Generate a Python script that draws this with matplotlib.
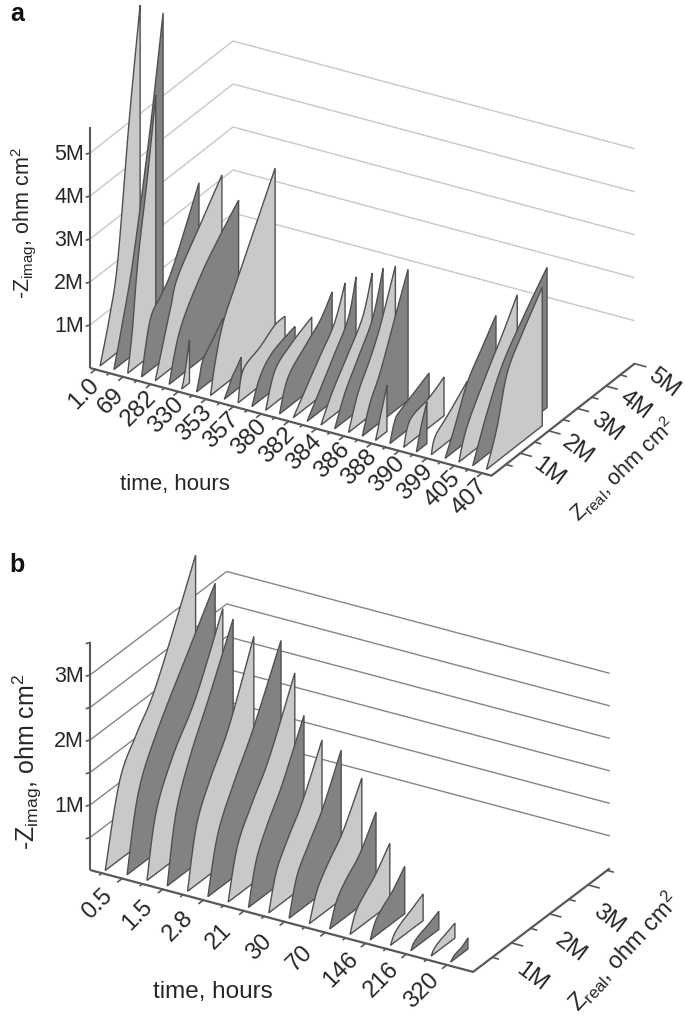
#!/usr/bin/env python3
'''Two waterfall impedance charts drawn with a hand made oblique projection.'''

import matplotlib
matplotlib.use('Agg')
import matplotlib.pyplot as plt
from matplotlib.patches import Polygon

plt.rcParams['font.family'] = ['Liberation Sans', 'DejaVu Sans']
plt.rcParams['mathtext.fontset'] = 'custom'
plt.rcParams['mathtext.rm'] = 'Liberation Sans'
plt.rcParams['mathtext.default'] = 'regular'

LIGHT = '#c9c9c9'
DARK = '#828282'
EDGE = '#505050'
AXIS = '#585858'
TEXT = '#262626'

# panel a, values in M ohm cm2, one row per measurement
a_times = ['1.0', '69', '282', '330', '353', '357', '380', '382', '384', '386',
           '388', '390', '399', '405', '407']
a_real = [
    [.16, .50, .78, 1.18, 1.56], [.16, .45, .83, 1.42, 1.88], [.16, .32, .52, .85, 1.14],
    [.16, .46, .85, 1.26, 2.17], [.16, .68, .94, 1.72, 2.49], [.16, .54, 1.24, 1.90, 2.59],
    [.12, .18, .25, .32, .39], [.16, .26, .38, .73, 1.08], [.16, .32, .60, 1.09, 2.42],
    [.16, .30, .43, .60, .75], [.16, .33, .93, 1.45, 1.80], [.16, .44, .86, 1.56, 1.67],
    [.16, .49, 1.08, 1.50, 1.77], [.16, .46, 1.12, 1.60, 2.00], [.16, .60, 1.10, 1.60, 1.97],
    [.16, .61, 1.10, 1.60, 1.87], [.16, .55, 1.10, 1.63, 1.95], [.16, .52, 1.00, 1.50, 1.85],
    [.16, .49, .90, 1.26, 1.80], [.16, .43, .78, 1.27, 1.76], [.14, .22, .30, .42, .54],
    [.16, .34, .58, 1.05, 1.53], [.16, .38, .98, 1.30, 1.57], [.12, .20, .28, .38, .49],
    [.16, .29, .70, 1.10, 1.41], [.16, .50, .93, 1.45, 1.94], [.16, .44, 1.14, 1.70, 2.20],
    [.16, .66, 1.22, 2.00, 2.76], [.16, .53, .88, 1.40, 2.11],
]
a_imag = [
    [0, 1.00, 2.14, 5.20, 7.66], [0, .90, 2.20, 4.90, 7.40], [0, .90, 2.45, 4.20, 5.96],
    [0, 1.17, 1.55, 1.98, 3.47], [0, 1.38, 2.00, 2.80, 3.57], [0, 1.07, 1.93, 2.50, 3.02],
    [0, .15, .40, .70, 1.00], [0, .30, .63, .93, 1.23], [0, .67, 1.46, 2.20, 4.11],
    [0, .18, .37, .52, .67], [0, .67, .90, 1.14, 1.16], [0, .54, .88, 1.06, 1.07],
    [0, .77, 1.09, 1.24, 1.33], [0, .70, 1.15, 1.45, 1.88], [0, .45, .95, 1.45, 2.19],
    [0, .50, 1.05, 1.65, 2.47], [0, .55, 1.15, 1.77, 2.60], [0, .65, 1.25, 1.90, 2.85],
    [0, .74, 1.30, 1.88, 3.02], [0, .63, 1.15, 2.10, 3.05], [0, .20, .45, .75, 1.08],
    [0, .46, .60, .76, .93], [0, .52, .67, .78, .90], [0, .25, .49, .73, .97],
    [0, .35, .60, .85, 1.05], [0, .56, 1.35, 1.90, 2.40], [0, .67, 1.56, 2.20, 2.83],
    [0, .97, 1.84, 2.60, 3.26], [0, .79, 1.86, 2.50, 3.22],
]

# panel b
b_times = ['0.5', '1.5', '2.8', '21', '30', '70', '146', '216', '320']
b_real = [
    [.09, .47, .92, 1.44, 2.45], [.13, .42, .91, 1.85, 2.43], [.12, .36, .80, 1.40, 2.10],
    [.12, .34, .70, 1.20, 1.84], [.12, .35, .70, 1.20, 1.85], [.12, .38, .80, 1.30, 2.03],
    [.12, .36, .75, 1.20, 1.86], [.12, .33, .65, 1.00, 1.57], [.12, .32, .62, 1.00, 1.51],
    [.12, .32, .62, 1.00, 1.48], [.12, .32, .62, 1.00, 1.49], [.12, .30, .56, .90, 1.33],
    [.12, .27, .50, .78, 1.16], [.12, .25, .45, .70, 1.02], [.12, .22, .40, .65, .97],
    [.12, .20, .36, .58, .85], [.12, .20, .33, .50, .74], [.10, .17, .27, .39, .55],
]
b_imag = [
    [0, 1.22, 1.75, 2.28, 3.80], [0, 1.12, 1.85, 2.85, 3.46], [0, .95, 1.62, 2.25, 3.30],
    [0, 1.00, 1.70, 2.40, 3.34], [0, .90, 1.45, 2.05, 3.15], [0, .85, 1.45, 2.05, 3.09],
    [0, .75, 1.25, 1.75, 2.75], [0, .65, 1.10, 1.50, 2.31], [0, .55, .92, 1.32, 2.04],
    [0, .55, .90, 1.30, 1.98], [0, .42, .72, 1.03, 1.63], [0, .35, .58, .80, 1.26],
    [0, .28, .45, .62, .94], [0, .22, .36, .49, .73], [0, .13, .22, .30, .41],
    [0, .09, .15, .20, .28], [0, .08, .13, .17, .23], [0, .05, .08, .10, .17],
]

a_grid = [1, 2, 3, 4, 5]
a_zticks = [1, 2, 3, 4, 5]
a_rticks = [.5, 1, 1.5, 2, 2.5, 3, 3.5, 4, 4.5, 5]
b_grid = [.5, 1, 1.5, 2, 2.5, 3]
b_zticks = [.5, 1, 1.5, 2, 2.5, 3, 3.5]
b_rticks = [.5, 1, 1.5, 2, 2.5, 3, 3.5]

fig = plt.figure(figsize=(6.85, 10.21), dpi=100)
ax = fig.add_axes([0, 0, 1, 1])
ax.set_xlim(0, 685)
ax.set_ylim(1021, 0)
ax.axis('off')


def smooth(pts, steps=6):
	'''Catmull-Rom curve through the read points, only to round the drawn edge.'''
	out = [pts[0]]
	for k in range(len(pts) - 1):
		p0, p1, p2, p3 = pts[max(k - 1, 0)], pts[k], pts[k + 1], pts[min(k + 2, len(pts) - 1)]
		for s in range(1, steps + 1):
			u = s / steps
			out.append(tuple(
				.5 * (2 * p1[c] + (p2[c] - p0[c]) * u
				      + (2 * p0[c] - 5 * p1[c] + 4 * p2[c] - p3[c]) * u ** 2
				      + (3 * p1[c] - p0[c] - 3 * p2[c] + p3[c]) * u ** 3)
				for c in (0, 1)))
	return out


def draw_panel(real, imag, times, grid, zticks, rticks, p):
	def proj(t, r, z):
		return (p['ox'] + p['dx'] * t + p['rx'] * r,
		        p['oy'] + p['dy'] * t - p['ry'] * r - p['zy'] * z)

	def line(t, r, z, **kw):
		pts = [proj(*q) for q in zip(t, r, z)]
		ax.plot(*zip(*pts), solid_capstyle='butt', **kw)

	tmax, rmax, ztop = p['tmax'], p['rmax'], p['ztop']
	for z in grid:
		line([0, 0, tmax], [0, rmax, rmax], [z, z, z], color=p['grid'], lw=1.0, zorder=1)

	# axes
	line([0, 0], [0, 0], [0, ztop], color=AXIS, lw=1.5, zorder=2)
	line([0, tmax, tmax], [0, 0, rmax], [0, 0, 0], color=AXIS, lw=1.6, zorder=2)
	for z in zticks:
		x, y = proj(0, 0, z)
		ax.plot([x - 3.5, x], [y + 1, y], color=AXIS, lw=1.2, zorder=2)
		if z == int(z):
			ax.text(x - 6, y + 1, f'{int(z)}M', ha='right', va='center', color=TEXT,
			        fontsize=p['fs'])
	for r in rticks:
		x, y = proj(tmax, r, 0)
		n = 11 if r == int(r) else 6
		ax.plot([x, x + n], [y, y + n * .27], color=AXIS, lw=1.2, zorder=2)
		if r == int(r):
			ax.text(x + p['rlab'][0], y + p['rlab'][1], f'{int(r)}M', rotation=-37,
			        ha='center', va='center', rotation_mode='anchor', color=TEXT,
			        fontsize=p['rfs'])

	# time ticks and slabs, later ones cover earlier ones
	for i in range(len(real)):
		t = i + p['t0']
		x, y = proj(t, 0, 0)
		labelled = (i - p['first']) % 2 == 0
		n = 6 if labelled else 3
		ax.plot([x, x - n * .7], [y, y + n * .55], color=AXIS, lw=1.2, zorder=2)
		if labelled:
			ax.text(x + p['tlab'][0], y + p['tlab'][1], times[(i - p['first']) // 2],
			        rotation=45, ha='center', va='center', rotation_mode='anchor',
			        color=TEXT, fontsize=p['tfs'])
		pts = smooth([proj(t, r, z) for r, z in zip(real[i], imag[i])])
		pts.append(proj(t, real[i][-1], 0))
		colour = LIGHT if i % 2 == 0 else DARK
		ax.add_patch(Polygon(pts, closed=True, fc=colour, ec=EDGE, lw=1.0,
		                     joinstyle='miter', zorder=3 + i * .01))


draw_panel(a_real, a_imag, a_times, a_grid, a_zticks, a_rticks, {
	'ox': 90, 'oy': 368, 'dx': 13.8, 'dy': 3.7, 'rx': 28.6, 'ry': 22.4, 'zy': 43,
	'tmax': 29.1, 'rmax': 5.0, 'ztop': 5.6, 't0': .4, 'first': 0,
	'fs': 15.5, 'tfs': 17.5, 'rfs': 17,
	'tlab': (-12, 24), 'rlab': (29, 19), 'grid': '#c8c8c8'})
draw_panel(b_real, b_imag, b_times, b_grid, b_zticks, b_rticks, {
	'ox': 90, 'oy': 870, 'dx': 20.3, 'dy': 5.4, 'rx': 38.3, 'ry': 29, 'zy': 65,
	'tmax': 18.87, 'rmax': 3.57, 'ztop': 3.5, 't0': .58, 'first': 1,
	'fs': 15.5, 'tfs': 17, 'rfs': 17,
	'tlab': (-25, 26), 'rlab': (21, 34), 'grid': '#858585'})

ax.text(17, 14, 'a', fontsize=18, fontweight='bold', ha='center', va='center', color='#111111')
ax.text(17, 565, 'b', fontsize=18, fontweight='bold', ha='center', va='center', color='#111111')

ax.text(175, 484, 'time, hours', fontsize=16, ha='center', va='center', color=TEXT)
ax.text(213, 992, 'time, hours', fontsize=17.5, ha='center', va='center', color=TEXT)

ax.text(24, 223, r'-Z$_{imag}$, ohm cm$^2$', fontsize=15.5, rotation=90, ha='center',
        va='center', color=TEXT)
ax.text(27, 762, r'-Z$_{imag}$, ohm cm$^2$', fontsize=18, rotation=90, ha='center',
        va='center', color=TEXT)
ax.text(623, 470, r'Z$_{real}$, ohm cm$^2$', fontsize=15.5, rotation=44, ha='center',
        va='center', rotation_mode='anchor', color=TEXT)
ax.text(624, 952, r'Z$_{real}$, ohm cm$^2$', fontsize=17, rotation=47, ha='center',
        va='center', rotation_mode='anchor', color=TEXT)

fig.savefig('out.png', dpi=100)
